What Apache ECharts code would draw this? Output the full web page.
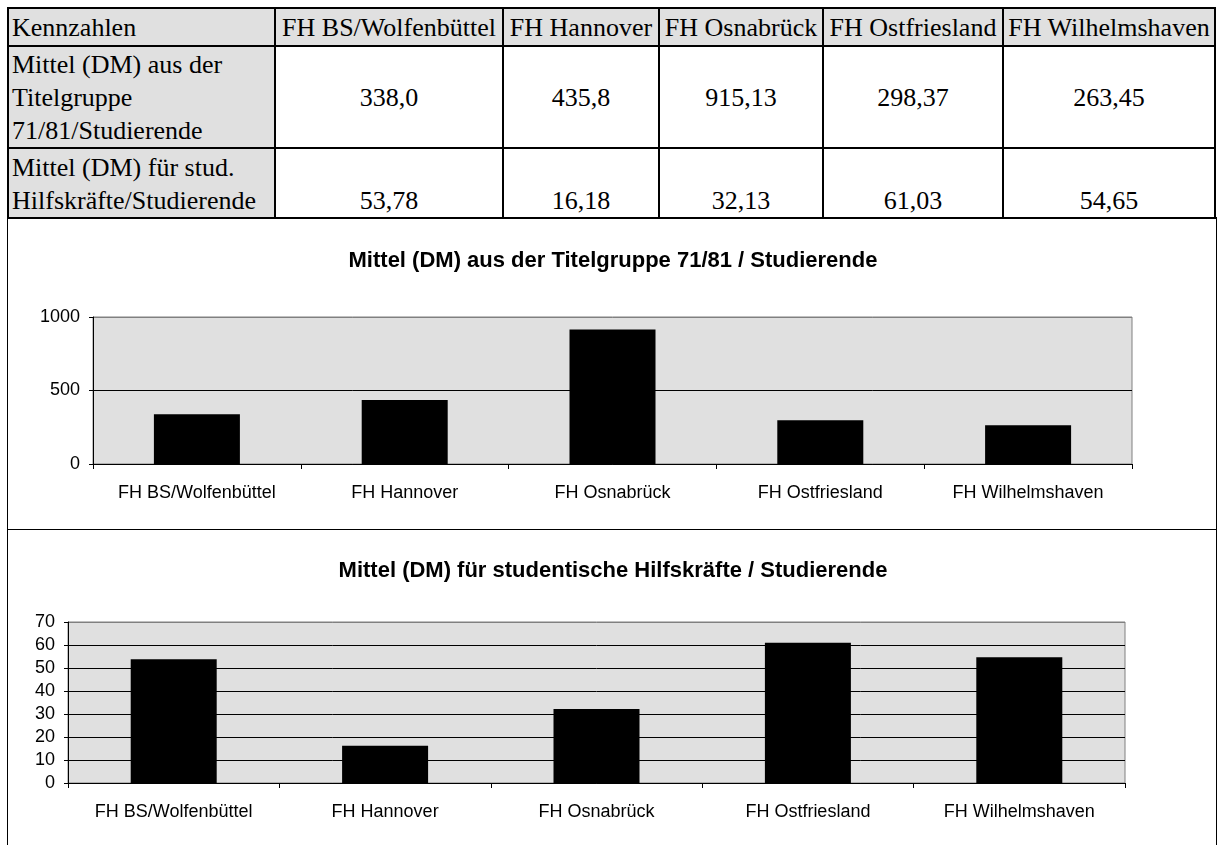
<!DOCTYPE html>
<html>
<head>
    <meta charset="utf-8"/>
    <script src="https://cdn.jsdelivr.net/npm/echarts@6/dist/echarts.min.js"></script>
    <style>
        body { margin: 0; background: #fff; }
        #tbl {
            position: absolute; left: 7px; top: 7px;
            border-collapse: collapse; table-layout: fixed;
            font-family: "Liberation Serif", "Times New Roman", serif;
            font-size: 26px; color: #000;
        }
        #tbl td { border: 2px solid #000; padding: 0 3px; line-height: 33px; text-align: center; white-space: nowrap; overflow: hidden; }
        #tbl td.lab { text-align: left; background: #e0e0e0; }
        #tbl tr.head td { background: #e0e0e0; height: 36px; }
        #tbl tr.r1 td { height: 100px; vertical-align: middle; }
        #tbl tr.r2 td { height: 68px; vertical-align: bottom; }
        #frame { position: absolute; left: 7px; top: 217px; width: 1208px; height: 640px;
                 border-left: 1px solid #000; border-right: 1px solid #000; }
        #divider { position: absolute; left: 7px; top: 529px; width: 1210px; border-top: 1px solid #000; }
        #main { position: absolute; left: 0; top: 218px; width: 1226px; height: 627px; }
    </style>
</head>
<body>
<table id="tbl"></table>
<div id="frame"></div>
<div id="divider"></div>
<div id="main"></div>
<script type="text/javascript">
    // Daten
    var hochschulen = ['FH BS/Wolfenbüttel', 'FH Hannover', 'FH Osnabrück', 'FH Ostfriesland', 'FH Wilhelmshaven'];
    var titelgruppe = [338.0, 435.8, 915.13, 298.37, 263.45];
    var hilfskraefte = [53.78, 16.18, 32.13, 61.03, 54.65];
    var titelgruppeText = ['338,0', '435,8', '915,13', '298,37', '263,45'];
    var hilfskraefteText = ['53,78', '16,18', '32,13', '61,03', '54,65'];
    var kennzahlen = ['Mittel (DM) aus der<br>Titelgruppe<br>71/81/Studierende', 'Mittel (DM) für stud.<br>Hilfskräfte/Studierende'];
    var titel1 = 'Mittel (DM) aus der Titelgruppe 71/81 / Studierende';
    var titel2 = 'Mittel (DM) für studentische Hilfskräfte / Studierende';
    var colWidths = [267, 228, 156, 164, 180, 212];

    // Tabelle aufbauen
    var html = '<colgroup>';
    colWidths.forEach(function (w) { html += '<col style="width:' + w + 'px">'; });
    html += '</colgroup><tr class="head"><td class="lab">Kennzahlen</td>';
    hochschulen.forEach(function (h) { html += '<td>' + h + '</td>'; });
    html += '</tr><tr class="r1"><td class="lab">' + kennzahlen[0] + '</td>';
    titelgruppeText.forEach(function (t) { html += '<td>' + t + '</td>'; });
    html += '</tr><tr class="r2"><td class="lab">' + kennzahlen[1] + '</td>';
    hilfskraefteText.forEach(function (t) { html += '<td>' + t + '</td>'; });
    html += '</tr>';
    document.getElementById('tbl').innerHTML = html;

    var myChart = echarts.init(document.getElementById('main'));
    var font = '"Liberation Sans", Arial, sans-serif';

    function xAxisFor(idx) {
        return {
            type: 'category', gridIndex: idx, data: hochschulen,
            axisLine: { lineStyle: { color: '#000', width: 1 } },
            axisTick: { show: true, length: 5, alignWithLabel: false, lineStyle: { color: '#000' } },
            axisLabel: { color: '#000', fontSize: 18, fontFamily: font, margin: 20, interval: 0 }
        };
    }

    function yAxisFor(idx, max, step, lineColors) {
        return {
            type: 'value', gridIndex: idx, min: 0, max: max, interval: step,
            axisLine: { show: true, lineStyle: { color: '#000' } },
            axisTick: { show: true, length: 4, lineStyle: { color: '#000' } },
            axisLabel: { color: '#000', fontSize: 18, fontFamily: font, margin: 13,
                         formatter: function (v) { return String(v); } },
            splitLine: { lineStyle: { color: lineColors } }
        };
    }

    option = {
        animation: false,
        title: [
            { text: titel1, left: 'center', top: 32, padding: 0,
              textStyle: { fontFamily: font, fontSize: 22, fontWeight: 'bold', color: '#000' } },
            { text: titel2, left: 'center', top: 342, padding: 0,
              textStyle: { fontFamily: font, fontSize: 22, fontWeight: 'bold', color: '#000' } }
        ],
        grid: [
            { left: 93, top: 99, width: 1039, height: 147, show: true,
              backgroundColor: '#e0e0e0', borderColor: '#808080', borderWidth: 1 },
            { left: 68, top: 404, width: 1057, height: 161, show: true,
              backgroundColor: '#e0e0e0', borderColor: '#808080', borderWidth: 1 }
        ],
        xAxis: [xAxisFor(0), xAxisFor(1)],
        yAxis: [
            yAxisFor(0, 1000, 500, ['#000', '#000', '#808080']),
            yAxisFor(1, 70, 10, ['#000', '#000', '#000', '#000', '#000', '#000', '#000', '#808080'])
        ],
        series: [
            { type: 'bar', xAxisIndex: 0, yAxisIndex: 0, data: titelgruppe, barWidth: 86,
              itemStyle: { color: '#000' } },
            { type: 'bar', xAxisIndex: 1, yAxisIndex: 1, data: hilfskraefte, barWidth: 86,
              itemStyle: { color: '#000' } }
        ]
    };

    myChart.setOption(option);
</script>
</body>
</html>
